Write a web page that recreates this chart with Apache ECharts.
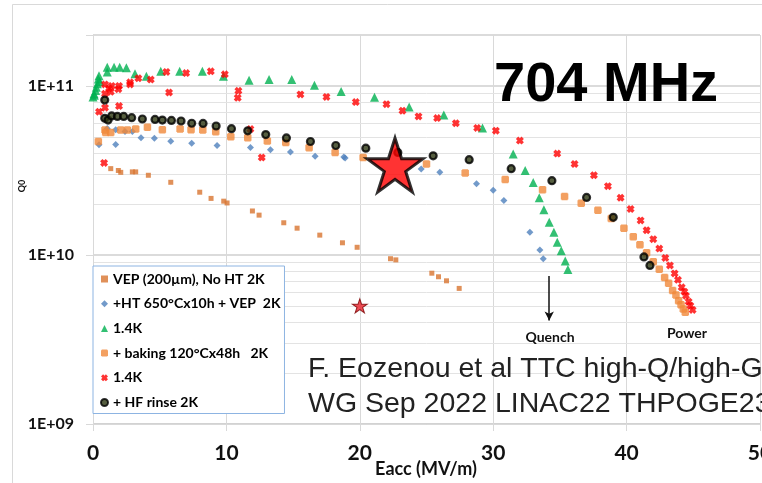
<!DOCTYPE html>
<html><head><meta charset="utf-8">
<script src="https://cdn.jsdelivr.net/npm/echarts@6/dist/echarts.min.js"></script>
<style>html,body{margin:0;padding:0;background:#fff}#c{width:762px;height:483px}</style>
</head><body><div id="c"></div>
<script>
// ---- data ----
const seriesNames = ['VEP (200µm), No HT 2K', '+HT 650°Cx10h + VEP  2K', '1.4K', '+ baking 120°Cx48h   2K', '1.4K ', '+ HF rinse 2K'];
const xTicks = [0, 10, 20, 30, 40, 50];
const yTickValues = [1e9, 1e10, 1e11];
const yTickLabels = ['1E+09', '1E+10', '1E+11'];

const vepNoHT2K = [[1.33,3.24e10],[1.9,3.16e10],[2.08,3.08e10],[2.95,3.1e10],[3.2,3.1e10],[4.15,2.96e10],[5.83,2.69e10],[8.0,2.35e10],[8.85,2.16e10],[9.8,2.08e10],[10.05,2.03e10],[11.95,1.82e10],[12.45,1.72e10],[14.3,1.55e10],[15.3,1.44e10],[17.0,1.31e10],[18.7,1.18e10],[19.8,1.11e10],[22.3,9.5e9],[22.7,9.35e9],[25.4,7.8e9],[25.9,7.43e9],[26.5,7.03e9],[27.45,6.34e9]];
const ht650Vep2K = [[0.45,4.48e10],[1.07,5.6e10],[1.7,4.5e10],[1.7,5.5e10],[2.4,5.38e10],[2.95,5.38e10],[3.6,4.94e10],[4.6,4.9e10],[5.83,4.7e10],[7.4,4.58e10],[9.3,4.44e10],[11.8,4.32e10],[13.3,4.19e10],[14.8,4.07e10],[16.65,3.84e10],[18.8,3.8e10],[18.9,3.75e10],[24.6,3.22e10],[26.0,3.08e10],[28.75,2.64e10],[30.0,2.41e10],[30.8,2.1e10],[32.75,1.36e10],[33.5,1.07e10],[33.75,9.5e9]];
const ht650Vep14K = [[0.0,8.6e10],[0.1,8.8e10],[0.08,9.0e10],[0.2,9.4e10],[0.25,9.8e10],[0.33,1.03e11],[0.5,1.06e11],[0.4,1.1e11],[0.45,1.15e11],[1.07,1.21e11],[1.07,1.29e11],[1.58,1.29e11],[2.0,1.29e11],[2.5,1.28e11],[3.15,1.18e11],[4.0,1.14e11],[5.08,1.22e11],[6.5,1.22e11],[8.2,1.22e11],[9.78,1.14e11],[11.7,1.08e11],[13.2,1.09e11],[14.9,1.09e11],[16.6,1.01e11],[18.6,9.27e10],[21.1,8.58e10],[23.7,7.49e10],[26.3,6.73e10],[29.2,5.64e10],[31.5,3.96e10],[32.4,3.16e10],[33.0,2.68e10],[33.45,2.18e10],[33.8,1.85e10],[34.2,1.56e10],[34.55,1.36e10],[34.8,1.19e10],[35.1,1.06e10],[35.4,9.2e9],[35.6,8.2e9]];
const baking2K = [[0.4,4.69e10],[0.9,5.48e10],[0.95,5.3e10],[1.33,5.3e10],[2.08,5.48e10],[2.58,5.48e10],[3.2,5.56e10],[4.08,5.7e10],[5.2,5.5e10],[6.53,5.56e10],[7.35,5.5e10],[8.23,5.48e10],[9.2,5.35e10],[10.33,5.01e10],[11.6,4.94e10],[13.07,4.72e10],[14.45,4.63e10],[16.2,4.3e10],[18.15,4.04e10],[20.25,3.77e10],[25.0,3.45e10],[27.9,3.05e10],[30.9,2.79e10],[33.7,2.43e10],[35.35,2.22e10],[36.6,2.02e10],[37.85,1.84e10],[38.85,1.64e10],[39.8,1.44e10],[40.5,1.28e10],[41.0,1.15e10],[41.5,1.03e10],[42.0,9.1e9],[42.45,8.24e9],[42.85,7.36e9],[43.15,6.79e9],[43.45,6.17e9],[43.7,5.8e9],[43.9,5.36e9],[44.08,5.08e9],[44.25,4.79e9],[44.4,4.58e9]];
const baking14K = [[0.45,7.03e10],[0.83,3.5e10],[0.9,7.43e10],[0.9,9.0e10],[0.9,1.02e11],[1.2,9.65e10],[1.33,9.22e10],[1.4,1.0e11],[1.9,9.56e10],[1.95,7.6e10],[1.95,1.0e11],[2.78,1.02e11],[2.78,1.05e11],[3.4,1.11e11],[4.33,1.09e11],[5.5,1.21e11],[5.7,9.14e10],[6.98,1.19e11],[8.83,1.22e11],[9.88,1.17e11],[10.85,8.5e10],[10.9,9.35e10],[11.8,5.55e10],[12.65,3.77e10],[15.55,8.9e10],[17.5,8.61e10],[19.7,8.02e10],[22.0,7.8e10],[23.2,7.13e10],[24.4,6.6e10],[25.8,6.45e10],[27.2,6.01e10],[28.8,5.64e10],[30.2,5.43e10],[32.0,4.75e10],[34.8,3.98e10],[36.1,3.45e10],[37.55,2.96e10],[38.6,2.55e10],[39.55,2.18e10],[40.3,1.87e10],[41.05,1.6e10],[41.5,1.4e10],[42.0,1.24e10],[42.45,1.09e10],[42.9,9.6e9],[43.25,8.67e9],[43.6,7.78e9],[43.85,7.13e9],[44.13,6.43e9],[44.33,6.06e9],[44.45,5.74e9],[44.65,5.29e9],[44.78,5.01e9],[44.95,4.73e9]];
const hfRinse2K = [[0.88,8.24e10],[0.88,6.43e10],[1.13,6.28e10],[1.4,6.64e10],[1.83,6.6e10],[2.3,6.6e10],[2.9,6.49e10],[3.7,6.37e10],[4.65,6.33e10],[5.2,6.28e10],[5.88,6.25e10],[6.6,6.2e10],[7.4,6.01e10],[8.25,6.0e10],[9.23,5.79e10],[10.38,5.58e10],[11.6,5.42e10],[12.95,5.15e10],[14.5,4.92e10],[16.3,4.69e10],[18.2,4.44e10],[20.45,4.28e10],[22.85,4.04e10],[25.5,3.86e10],[28.2,3.66e10],[31.35,3.24e10],[34.4,2.75e10],[37.0,2.19e10],[39.0,1.67e10],[41.3,9.73e9],[41.75,8.67e9]];
const bigStar = [[22.64, 3.4e10]];
const smallStar = [[20.0, 5.0e9]];
const quenchArrow = [[34.2, 7.5e9], [34.2, 4.1e9]];

// ---- style ----
const CAL = 'Lato';
const grey = '#d9d9d9';
const minorLevels = [];
[1e9, 1e10, 1e11].forEach(d => { for (let k = 2; k <= 9; k++) { if (d * k < 2e11) minorLevels.push(d * k); } });

const sqSym = 'path://M0,0L10,0L10,10L0,10Z';
const plusSym = 'path://M1,0L9,0L9,1L10,1L10,9L9,9L9,10L1,10L1,9L0,9L0,1L1,1Z';
const xSym = 'path://M0,3L3,0L5,2L7,0L10,3L8,5L10,7L7,10L5,8L3,10L0,7L2,5Z';
const starSym = 'path://M50,0L61.2,34.5L97.6,34.5L68.2,55.9L79.4,90.5L50,69.1L20.6,90.5L31.8,55.9L2.4,34.5L38.8,34.5Z';

function sc(name, data, symbol, size, color, extra) {
  return Object.assign({ name, type: 'scatter', data, symbol, symbolSize: size, itemStyle: { color }, silent: true }, extra || {});
}

const chart = echarts.init(document.getElementById('c'), null, { renderer: 'canvas' });
chart.setOption({
  animation: false,
  backgroundColor: '#fff',
  grid: { left: 93, right: 2, top: 35, bottom: 59, containLabel: false, outerBoundsMode: 'none' },
  xAxis: {
    type: 'value', min: xTicks[0], max: xTicks[xTicks.length - 1], interval: 10,
    axisLine: { show: true, onZero: false, lineStyle: { color: grey, width: 1 } },
    axisTick: { show: true, length: 7, lineStyle: { color: grey } },
    splitLine: { show: true, lineStyle: { color: grey, width: 1 } },
    axisLabel: { margin: 19, fontFamily: CAL, fontWeight: 'bold', fontSize: 21, color: '#111', showMaxLabel: true,
      formatter: v => xTicks.includes(v) ? String(v) : '' }
  },
  yAxis: {
    type: 'log', logBase: 10, min: 1e9, max: 2e11,
    axisLine: { show: true, lineStyle: { color: grey, width: 1 } },
    axisTick: { show: true, length: 7, lineStyle: { color: grey } },
    splitLine: { show: true, lineStyle: { color: '#cfcfcf', width: 1.5 } },
    axisLabel: { margin: 19, fontFamily: CAL, fontWeight: 'bold', fontSize: 16, color: '#111',
      formatter: v => { const i = yTickValues.findIndex(t => Math.abs(v / t - 1) < 1e-6); return i >= 0 ? yTickLabels[i] : ''; } }
  },
  legend: {
    data: seriesNames, orient: 'vertical', left: 93, top: 266, z: 8,
    itemWidth: 7, itemHeight: 7, itemGap: 8.7,
    padding: [5, 4, 3, 7],
    backgroundColor: '#fff', borderColor: '#8db4e2', borderWidth: 1,
    textStyle: { fontFamily: CAL, fontWeight: 'bold', fontSize: 14, lineHeight: 16, color: '#000' },
    selectedMode: false
  },
  series: [
    { name: 'gridMinor', type: 'scatter', data: [[0, 1e9]], symbolSize: 0, silent: true, z: 0,
      markLine: { silent: true, z: 0, symbol: ['none', 'none'], label: { show: false },
        lineStyle: { color: '#e3e3e3', width: 1, type: 'solid' },
        data: minorLevels.map(v => ({ yAxis: v })) } },
    sc(seriesNames[0], vepNoHT2K, sqSym, 5, '#d8742f'),
    sc(seriesNames[1], ht650Vep2K, 'diamond', 7, '#4f81bd'),
    sc(seriesNames[2], ht650Vep14K, 'triangle', 9, '#00b050'),
    sc(seriesNames[3], baking2K, plusSym, 7.5, '#f0883a'),
    sc(seriesNames[4], baking14K, xSym, 8, '#ff0000'),
    sc(seriesNames[5], hfRinse2K, 'circle', 7, '#2c3610', { itemStyle: { color: '#2c3610', borderColor: '#000', borderWidth: 2.2 } }),
    { name: 'stars', type: 'scatter', silent: true, z: 5,
      data: bigStar, symbol: starSym, symbolSize: [56, 54],
      itemStyle: { color: '#ff0000', borderColor: '#000', borderWidth: 3 },
      markLine: { silent: true, z: 5, symbol: ['none', 'arrow'], symbolSize: [7, 9], label: { show: false },
        lineStyle: { color: '#111', width: 1.5, type: 'solid' },
        data: [[{ coord: quenchArrow[0] }, { coord: quenchArrow[1] }]] } },
    { name: 'smallStar', type: 'scatter', silent: true, z: 5,
      data: smallStar, symbol: starSym, symbolSize: [15, 14],
      itemStyle: { color: '#e8202a', borderColor: '#7a0000', borderWidth: 1 } }
  ],
  graphic: [
    { type: 'rect', shape: { x: 12.5, y: 4.5, width: 800, height: 600 }, style: { fill: 'none', stroke: grey, lineWidth: 1 }, silent: true, z: -10 },
    { type: 'text', x: 494, y: 86, style: { text: '704 MHz', font: 'bold 56px "Liberation Sans", Arial', fill: '#000', textAlign: 'left', textVerticalAlign: 'middle' }, z: 10 },
    { type: 'text', x: 308, y: 369, style: { text: 'F. Eozenou et al TTC high-Q/high-G', font: '28.5px "Liberation Sans", Arial', fill: '#222', textAlign: 'left', textVerticalAlign: 'middle' }, z: 10 },
    { type: 'text', x: 308, y: 404, style: { text: 'WG Sep 2022 LINAC22 THPOGE23', font: '28.5px "Liberation Sans", Arial', fill: '#222', textAlign: 'left', textVerticalAlign: 'middle' }, z: 10 },
    { type: 'text', x: 550, y: 337, style: { text: 'Quench', font: 'bold 14px Lato', fill: '#111', textAlign: 'center', textVerticalAlign: 'middle' }, z: 10 },
    { type: 'text', x: 687, y: 333, style: { text: 'Power', font: 'bold 14px Lato', fill: '#111', textAlign: 'center', textVerticalAlign: 'middle' }, z: 10 },
    { type: 'text', x: 426, y: 469, style: { text: 'Eacc (MV/m)', font: 'bold 18px Lato', fill: '#111', textAlign: 'center', textVerticalAlign: 'middle' }, z: 10 },
    { type: 'text', x: 22, y: 186, rotation: Math.PI / 2, style: { text: 'Q0', font: 'bold 9px Lato', fill: '#111', textAlign: 'center', textVerticalAlign: 'middle' }, z: 10 }
  ]
});
</script></body></html>
